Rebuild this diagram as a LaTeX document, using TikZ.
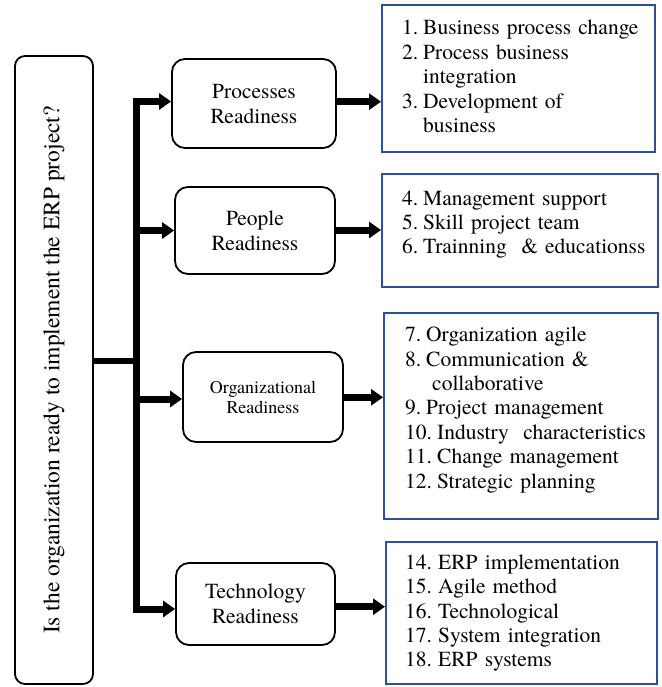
\documentclass[tikz,border=0pt]{standalone}
\usepackage{fontspec}
\setmainfont{texgyretermes}[Extension=.otf, UprightFont=*-regular, BoldFont=*-bold, ItalicFont=*-italic, BoldItalicFont=*-bolditalic]
\usetikzlibrary{arrows.meta}
\definecolor{boxblue}{RGB}{47,82,143}
\newcommand\lnum[2][21pt]{\makebox[#1][l]{#2}}
\begin{document}
\begin{tikzpicture}[x=1pt,y=-1pt,
 leftbox/.style={draw, line width=1.8pt, rounded corners=10pt, minimum width=628pt, minimum height=78pt, rotate=90, inner sep=0pt, font=\fontsize{23.5}{26}\selectfont},
 midbox/.style={draw, line width=1.8pt, rounded corners=13pt, align=center, inner sep=0pt, font=\fontsize{21.5}{25}\selectfont},
 listbox/.style={draw=boxblue, line width=2pt, inner sep=0pt},
 listtext/.style={anchor=base west, text width=255pt, align=left, inner sep=0pt, font=\fontsize{21.5}{24.4}\selectfont},
 fat/.style={line width=7pt, -{Triangle[length=12pt,width=16pt]}},
 trunk/.style={line width=7pt, line cap=rect},
]
\useasboundingbox (0,0) rectangle (661,687);

% question box
\node[leftbox] (lq) at (54,370) {Is the organization ready to implement the ERP project?};

% readiness boxes
\node[midbox, minimum width=164pt, minimum height=89pt] (p1) at (254,103.5) {Processes\\Readiness};
\node[midbox, minimum width=160pt, minimum height=87pt] (p2) at (255,230.5) {People\\Readiness};
\node[midbox, minimum width=160pt, minimum height=90pt, font=\fontsize{18}{20}\selectfont] (p3) at (263,397) {Organizational\\Readiness};
\node[midbox, minimum width=159pt, minimum height=82pt] (p4) at (255.5,604) {Technology\\Readiness};

% list boxes
\node[listbox, minimum width=273pt, minimum height=147pt] (b1) at (518.5,78.5) {};
\node[listbox, minimum width=276pt, minimum height=113pt] (b2) at (520,230.5) {};
\node[listbox, minimum width=274pt, minimum height=206pt] (b3) at (521,416) {};
\node[listbox, minimum width=271pt, minimum height=142pt] (b4) at (521.5,613) {};

\node[listtext] (t1) at (402,35) {\lnum{1.}Business process change\\
\lnum{2.}Process business\\
\hspace*{21pt}integration\\
\lnum{3.}Development of\\
\hspace*{21pt}business};
\node[listtext] (t2) at (402,205) {\lnum{4.}Management support\\
\lnum{5.}Skill project team\\
\lnum{6.}Trainning \ \& educationss};
\node[listtext] (t3) at (405,341.7) {\lnum{7.}Organization agile\\
\lnum{8.}Communication \&\\
\hspace*{27pt}collaborative\\
\lnum{9.}Project management\\
\lnum[32pt]{10.}Industry \ characteristics\\
\lnum[32pt]{11.}Change management\\
\lnum[32pt]{12.}Strategic planning};
\node[listtext] (t4) at (405,569.3) {\lnum[33pt]{14.}ERP implementation\\
\lnum[33pt]{15.}Agile method\\
\lnum[33pt]{16.}Technological\\
\lnum[33pt]{17.}System integration\\
\lnum[33pt]{18.}ERP systems};

% trunk and branches
\coordinate (j) at (136.5,361);
\coordinate (bt) at (136.5,101.5);
\coordinate (c2) at (136.5,230.5);
\coordinate (c3) at (136.5,399);
\coordinate (bb) at (136.5,609);
% lq is rotated by 90: its south anchor is the right edge
\draw[line width=6pt] (lq.south |- j) -- (j);
\draw[trunk] (bt) -- (bb);
\draw[fat] (bt) -- (p1.west |- bt);
\draw[fat] (c2) -- (p2.west |- c2);
\draw[fat] (c3) -- (p3.west |- c3);
\draw[fat] (bb) -- (p4.west |- bb);

% arrows to the lists
\coordinate (r1) at (360,101.7);
\coordinate (r2) at (360,230);
\coordinate (r3) at (360,397.3);
\coordinate (r4) at (360,606.7);
\draw[fat] (p1.east |- r1) -- (b1.west |- r1);
\draw[fat] (p2.east |- r2) -- (b2.west |- r2);
\draw[fat] (p3.east |- r3) -- (b3.west |- r3);
\draw[fat] (p4.east |- r4) -- (b4.west |- r4);
\end{tikzpicture}
\end{document}
